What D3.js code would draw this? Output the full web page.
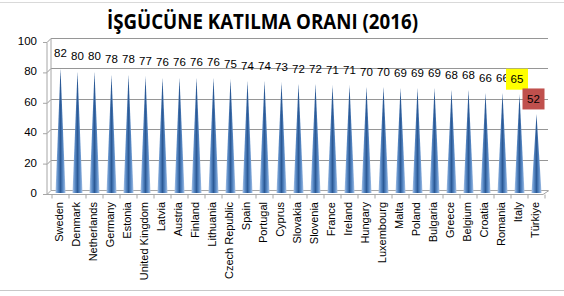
<!DOCTYPE html>
<html><head><meta charset="utf-8">
<script src="https://cdn.jsdelivr.net/npm/d3@7/dist/d3.min.js"></script>
<style>body{margin:0;background:#fff}svg{display:block}</style>
</head><body><svg id="c" width="564" height="296"></svg>
<script>
const countries = ["Sweden","Denmark","Netherlands","Germany","Estonia","United Kingdom","Latvia","Austria","Finland","Lithuania","Czech Republic","Spain","Portugal","Cyprus","Slovakia","Slovenia","France","Ireland","Hungary","Luxembourg","Malta","Poland","Bulgaria","Greece","Belgium","Croatia","Romania","Italy","Türkiye"];
const values = [82,80,80,78,78,77,76,76,76,76,75,74,74,73,72,72,71,71,70,70,69,69,69,68,68,66,66,65,52];
const yTicks = [0,20,40,60,80,100];
const highlight = {"Italy":"#FFFF00","Türkiye":"#C0504D"};

const svg = d3.select("#c");
const font = "'Liberation Sans', Arial, sans-serif";

// frame lines (sheet)
svg.append("line").attr("x1",0).attr("x2",564).attr("y1",2.5).attr("y2",2.5).attr("stroke","#d9d9d9");
svg.append("line").attr("x1",0).attr("x2",564).attr("y1",290.5).attr("y2",290.5).attr("stroke","#c8c8c8");

svg.append("text").attr("x",107).attr("y",28.5).attr("text-anchor","start")
  .attr("font-family","'Open Sans', sans-serif").attr("font-weight","bold").attr("font-size",20.5)
  .attr("textLength",311).attr("lengthAdjust","spacingAndGlyphs")
  .text("İŞGÜCÜNE KATILMA ORANI (2016)");

const x = d3.scaleBand().domain(countries).range([52,545]).padding(0);
const y = d3.scaleLinear().domain([0,100]).range([193,41]);

// gridlines (back wall with depth)
const grid = svg.append("g");
yTicks.forEach(v=>{
  const yy = Math.round(y(v)) - 2.5;
  grid.append("path").attr("d",`M47,${yy+4}L51,${yy}L548,${yy}`)
    .attr("fill","none").attr("stroke", v===0?"#a6a6a6":"#969696").attr("stroke-width",1);
});
svg.append("line").attr("x1",51).attr("x2",51).attr("y1",y(100)-2.5).attr("y2",y(0)-2.5).attr("stroke","#a6a6a6");
svg.append("line").attr("x1",47).attr("x2",47).attr("y1",y(100)+1.5).attr("y2",y(0)+1.5).attr("stroke","#a6a6a6");
svg.append("path").attr("d",`M47,${y(0)+1.5}L543,${y(0)+1.5}L549,${y(0)-2.5}`).attr("fill","none").attr("stroke","#a6a6a6");

// y tick labels
svg.append("g").selectAll("text").data(yTicks).join("text")
  .attr("x",37).attr("y",d=>y(d)+4).attr("text-anchor","end")
  .attr("font-family",font).attr("font-size",11.5).attr("fill","#000").text(d=>d);
svg.append("g").selectAll("line").data(yTicks).join("line")
  .attr("x1",43).attr("x2",47).attr("y1",d=>y(d)+1.5).attr("y2",d=>y(d)+1.5).attr("stroke","#a6a6a6");

// gradient
const defs = svg.append("defs");
const g = defs.append("linearGradient").attr("id","cone").attr("x1","0").attr("x2","1").attr("y1","0").attr("y2","0");
[["0%","#a9c3e6"],["25%","#5b8cc8"],["50%","#2c5a96"],["75%","#5b8cc8"],["100%","#a9c3e6"]]
  .forEach(([o,c])=>g.append("stop").attr("offset",o).attr("stop-color",c));

const data = countries.map((c,i)=>({c, v:values[i]}));
const cx = d=>x(d.c)+x.bandwidth()/2;
svg.append("g").selectAll("path").data(data).join("path")
  .attr("d",d=>`M${cx(d)-5},${y(0)}L${cx(d)},${y(d.v)}L${cx(d)+5},${y(0)}Z`)
  .attr("fill","url(#cone)");

// x ticks
svg.append("g").selectAll("line").data(countries.concat([null])).join("line")
  .attr("x1",(d,i)=>52+i*x.step()).attr("x2",(d,i)=>52+i*x.step())
  .attr("y1",y(0)+1.5).attr("y2",y(0)+5.5).attr("stroke","#a6a6a6");

// value labels
const lab = svg.append("g");
data.forEach(d=>{
  const yy = y(d.v)-15;
  let dx = 0;
  if(d.c==="Italy") dx = -2.5;
  if(d.c==="Türkiye") dx = -3;
  if(highlight[d.c]){
    lab.append("rect").attr("x",cx(d)+dx-11).attr("y",yy-10.5).attr("width",22).attr("height",21)
      .attr("fill",highlight[d.c]);
  }
  lab.append("text").attr("x",cx(d)+dx).attr("y",yy+4)
    .attr("text-anchor","middle").attr("font-family",font).attr("font-size",11.5).attr("fill","#000").text(d.v);
});

// x labels
svg.append("g").selectAll("text").data(countries).join("text")
  .attr("transform",d=>`translate(${x(d)+x.bandwidth()/2+2},202) rotate(-90)`)
  .attr("text-anchor","end").attr("font-family",font).attr("font-size",11).attr("fill","#000").text(d=>d);
</script></body></html>
